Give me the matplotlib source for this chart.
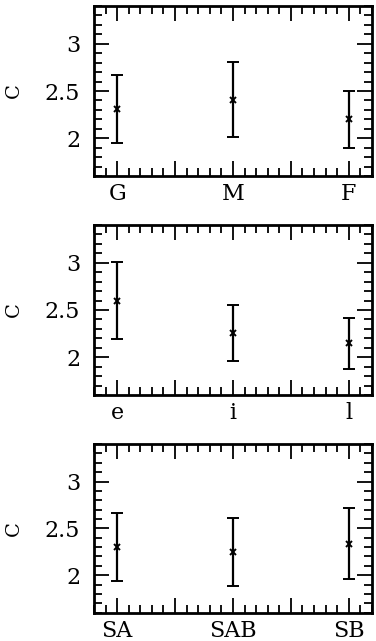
import numpy as np
from matplotlib import pyplot as plt
from matplotlib.ticker import MultipleLocator

plt.rcParams['font.family'] = ['DejaVu Serif']

labels1 = ['G', 'M', 'F']
c1 = [2.31, 2.41, 2.20]
e1 = [0.36, 0.40, 0.30]

labels2 = ['e', 'i', 'l']
c2 = [2.60, 2.256, 2.15]
e2 = [0.41, 0.30, 0.27]

labels3 = ['SA', 'SAB', 'SB']
c3 = [2.30, 2.247, 2.336]
e3 = [0.36, 0.36, 0.38]

panels = [(labels1, c1, e1), (labels2, c2, e2), (labels3, c3, e3)]
boxes = [[0.25, 0.7254, 0.739, 0.2652],
         [0.25, 0.3838, 0.739, 0.2652],
         [0.25, 0.0442, 0.739, 0.263]]

fig = plt.figure(figsize=(3.76, 6.41), dpi=100)

for (lab, c, e), box in zip(panels, boxes):
    ax = fig.add_axes(box)
    x = np.arange(1, len(lab) + 1)
    ax.errorbar(x, c, yerr=e, fmt='x', color='k', ms=4, mew=1.4,
                elinewidth=1.6, capsize=4, capthick=1.6)
    ax.set_xlim(0.8, 3.2)
    ax.set_ylim(1.6, 3.4)
    ax.xaxis.set_major_locator(MultipleLocator(0.5))
    ax.xaxis.set_minor_locator(MultipleLocator(0.1))
    ax.yaxis.set_major_locator(MultipleLocator(0.5))
    ax.yaxis.set_minor_locator(MultipleLocator(0.1))
    ax.set_yticks([2, 2.5, 3])
    ax.set_yticklabels(['2', '2.5', '3'])
    ax.set_xticks([1, 1.5, 2, 2.5, 3])
    ax.set_xticklabels([lab[0], '', lab[1], '', lab[2]])
    ax.tick_params(which='both', direction='in', top=True, right=True,
                   width=1.3, labelsize=16)
    ax.tick_params(which='major', length=11)
    ax.tick_params(which='minor', length=5.5)
    ax.tick_params(axis='y', which='major', pad=10)
    ax.tick_params(axis='x', which='major', pad=5)
    for s in ax.spines.values():
        s.set_linewidth(2)
    ax.set_ylabel('C', fontsize=14)
    ax.yaxis.set_label_coords(-0.255, 0.5)

plt.savefig('out.png', dpi=100)
